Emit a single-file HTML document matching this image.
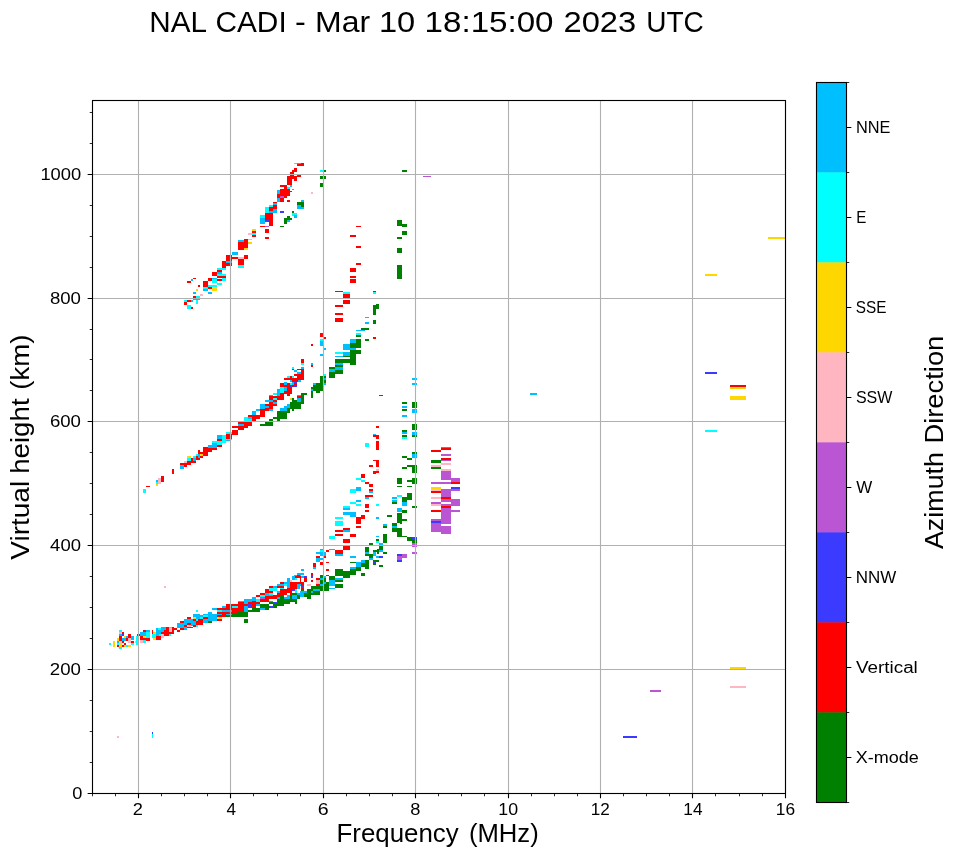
<!DOCTYPE html>
<html><head><meta charset="utf-8"><title>NAL CADI</title>
<style>html,body{margin:0;padding:0;background:#fff}svg{display:block;will-change:transform}text{font-family:"Liberation Sans",sans-serif;fill:#000}</style></head>
<body>
<svg width="958" height="857" viewBox="0 0 958 857">
<rect x="0" y="0" width="958" height="857" fill="#fff"/>
<g id="cells" shape-rendering="crispEdges">
<rect x="108.9" y="643.0" width="2.1" height="2.1" fill="#00ffff"/>
<rect x="113.0" y="640.9" width="2.1" height="6.1" fill="#ffd700"/>
<rect x="119.0" y="630.1" width="3.1" height="1.9" fill="#00ffff"/>
<rect x="119.0" y="631.9" width="3.1" height="1.9" fill="#ffb6c1"/>
<rect x="122.1" y="631.9" width="1.9" height="1.9" fill="#ff0000"/>
<rect x="119.0" y="633.8" width="3.1" height="1.9" fill="#00bfff"/>
<rect x="122.1" y="633.8" width="1.9" height="1.9" fill="#3b3bff"/>
<rect x="119.0" y="635.7" width="3.1" height="5.2" fill="#ff0000"/>
<rect x="117.0" y="637.8" width="2.0" height="3.1" fill="#ffd700"/>
<rect x="117.0" y="640.9" width="2.0" height="2.1" fill="#00bfff"/>
<rect x="119.0" y="640.9" width="3.1" height="2.1" fill="#ffb6c1"/>
<rect x="119.0" y="643.0" width="3.1" height="4.0" fill="#ffd700"/>
<rect x="117.0" y="645.1" width="2.0" height="1.9" fill="#ff0000"/>
<rect x="119.0" y="647.0" width="3.1" height="1.9" fill="#00ffff"/>
<rect x="122.1" y="637.6" width="4.0" height="3.7" fill="#00bfff"/>
<rect x="124.0" y="635.7" width="2.1" height="1.9" fill="#ffd700"/>
<rect x="128.0" y="633.8" width="3.1" height="3.8" fill="#ff0000"/>
<rect x="126.1" y="637.6" width="1.9" height="3.7" fill="#ff0000"/>
<rect x="128.0" y="637.8" width="3.1" height="5.2" fill="#ffb6c1"/>
<rect x="131.1" y="636.0" width="2.8" height="3.7" fill="#00bfff"/>
<rect x="131.1" y="640.9" width="2.8" height="2.1" fill="#ff0000"/>
<rect x="131.1" y="643.0" width="2.8" height="1.9" fill="#00ffff"/>
<rect x="122.1" y="641.2" width="1.9" height="1.8" fill="#ff0000"/>
<rect x="124.0" y="643.0" width="2.1" height="2.1" fill="#ff0000"/>
<rect x="122.1" y="645.1" width="1.9" height="1.9" fill="#ff0000"/>
<rect x="126.1" y="645.1" width="1.9" height="1.9" fill="#00ffff"/>
<rect x="128.0" y="645.1" width="3.1" height="1.9" fill="#ffd700"/>
<rect x="126.1" y="635.7" width="1.9" height="1.9" fill="#00bfff"/>
<rect x="117.0" y="643.0" width="2.0" height="2.1" fill="#00ffff"/>
<rect x="124.0" y="645.1" width="2.1" height="1.9" fill="#ffd700"/>
<rect x="136.0" y="636.0" width="1.6" height="8.9" fill="#00ffff"/>
<rect x="135.0" y="640.9" width="1.0" height="2.1" fill="#ffb6c1"/>
<rect x="137.3" y="633.9" width="2.7" height="2.1" fill="#ff0000"/>
<rect x="140.0" y="636.0" width="3.0" height="3.7" fill="#ff0000"/>
<rect x="140.0" y="631.9" width="5.9" height="4.1" fill="#00bfff"/>
<rect x="143.0" y="630.1" width="2.9" height="1.9" fill="#ff0000"/>
<rect x="145.9" y="630.1" width="4.0" height="1.9" fill="#00bfff"/>
<rect x="145.9" y="631.9" width="4.0" height="5.8" fill="#00ffff"/>
<rect x="143.0" y="636.0" width="2.9" height="1.8" fill="#ffd700"/>
<rect x="143.0" y="637.8" width="6.9" height="3.1" fill="#ff0000"/>
<rect x="140.0" y="640.2" width="3.0" height="2.8" fill="#ffb6c1"/>
<rect x="143.0" y="640.2" width="2.9" height="2.8" fill="#00ffff"/>
<rect x="151.9" y="630.1" width="1.0" height="5.9" fill="#ff0000"/>
<rect x="152.9" y="631.9" width="3.1" height="2.0" fill="#ffd700"/>
<rect x="152.2" y="633.9" width="3.9" height="3.9" fill="#00ffff"/>
<rect x="152.9" y="637.8" width="3.1" height="2.4" fill="#ffd700"/>
<rect x="156.1" y="636.0" width="5.0" height="4.2" fill="#ff0000"/>
<rect x="156.1" y="628.2" width="5.0" height="7.8" fill="#00bfff"/>
<rect x="157.9" y="628.2" width="3.1" height="2.1" fill="#00ffff"/>
<rect x="161.1" y="626.9" width="4.7" height="5.0" fill="#00bfff"/>
<rect x="159.0" y="633.9" width="2.1" height="2.1" fill="#00ffff"/>
<rect x="161.1" y="631.9" width="2.8" height="2.0" fill="#ff0000"/>
<rect x="161.1" y="633.9" width="2.8" height="3.9" fill="#ffb6c1"/>
<rect x="163.9" y="630.1" width="5.0" height="5.9" fill="#ff0000"/>
<rect x="165.8" y="626.9" width="3.1" height="3.1" fill="#ff0000"/>
<rect x="168.9" y="626.9" width="2.9" height="1.3" fill="#00ffff"/>
<rect x="168.9" y="628.2" width="2.9" height="3.8" fill="#ffb6c1"/>
<rect x="171.8" y="626.9" width="2.1" height="7.0" fill="#ff0000"/>
<rect x="168.9" y="631.9" width="2.9" height="2.0" fill="#ff0000"/>
<rect x="168.9" y="633.9" width="2.1" height="2.1" fill="#00ffff"/>
<rect x="173.9" y="628.2" width="3.1" height="1.9" fill="#ff0000"/>
<rect x="177.0" y="623.0" width="10.1" height="5.2" fill="#00bfff"/>
<rect x="179.9" y="620.9" width="4.2" height="2.1" fill="#ff0000"/>
<rect x="184.0" y="619.0" width="8.9" height="7.1" fill="#00bfff"/>
<rect x="187.2" y="617.0" width="3.9" height="2.0" fill="#ff0000"/>
<rect x="184.0" y="625.1" width="3.1" height="1.9" fill="#ff0000"/>
<rect x="187.2" y="625.1" width="3.9" height="1.9" fill="#ffb6c1"/>
<rect x="187.2" y="623.0" width="3.9" height="2.1" fill="#ff0000"/>
<rect x="179.9" y="628.0" width="4.2" height="1.8" fill="#ff0000"/>
<rect x="177.0" y="630.1" width="2.8" height="1.9" fill="#ff0000"/>
<rect x="184.0" y="626.9" width="3.1" height="2.8" fill="#00bfff"/>
<rect x="187.2" y="626.9" width="5.7" height="1.0" fill="#ff0000"/>
<rect x="192.9" y="614.1" width="7.1" height="4.9" fill="#00bfff"/>
<rect x="192.9" y="617.0" width="3.1" height="2.0" fill="#ffd700"/>
<rect x="192.9" y="619.0" width="3.1" height="1.9" fill="#ff0000"/>
<rect x="196.0" y="619.0" width="2.1" height="1.9" fill="#00ffff"/>
<rect x="196.0" y="620.9" width="4.0" height="4.2" fill="#ff0000"/>
<rect x="198.1" y="619.0" width="1.9" height="1.9" fill="#ff0000"/>
<rect x="192.9" y="625.1" width="3.1" height="1.9" fill="#ff0000"/>
<rect x="196.0" y="625.1" width="2.1" height="1.9" fill="#00ffff"/>
<rect x="191.0" y="620.9" width="5.0" height="4.2" fill="#00bfff"/>
<rect x="196.0" y="609.9" width="2.1" height="2.1" fill="#00ffff"/>
<rect x="200.0" y="615.1" width="3.1" height="1.9" fill="#00bfff"/>
<rect x="200.0" y="617.0" width="3.1" height="1.9" fill="#00ffff"/>
<rect x="200.0" y="618.9" width="3.1" height="5.9" fill="#ff0000"/>
<rect x="203.1" y="614.4" width="5.0" height="8.4" fill="#00bfff"/>
<rect x="203.1" y="615.1" width="5.0" height="1.9" fill="#00ffff"/>
<rect x="203.1" y="617.0" width="5.0" height="1.9" fill="#ff0000"/>
<rect x="208.1" y="612.0" width="3.9" height="9.2" fill="#00bfff"/>
<rect x="208.1" y="620.9" width="3.9" height="1.8" fill="#008000"/>
<rect x="212.0" y="608.1" width="4.9" height="1.9" fill="#00bfff"/>
<rect x="212.0" y="613.8" width="4.9" height="6.8" fill="#00bfff"/>
<rect x="216.9" y="608.1" width="9.2" height="8.9" fill="#ff0000"/>
<rect x="216.9" y="610.0" width="5.2" height="1.8" fill="#00ffff"/>
<rect x="222.1" y="606.0" width="4.0" height="2.1" fill="#00bfff"/>
<rect x="216.9" y="613.8" width="5.2" height="1.3" fill="#00bfff"/>
<rect x="216.9" y="617.0" width="5.2" height="2.1" fill="#ffd700"/>
<rect x="216.9" y="619.1" width="5.2" height="1.9" fill="#ff0000"/>
<rect x="226.1" y="603.9" width="4.2" height="9.9" fill="#ff0000"/>
<rect x="226.1" y="613.8" width="4.2" height="1.3" fill="#00bfff"/>
<rect x="226.1" y="614.9" width="4.2" height="1.9" fill="#008000"/>
<rect x="230.3" y="603.9" width="7.8" height="9.9" fill="#ff0000"/>
<rect x="232.2" y="606.0" width="5.9" height="2.1" fill="#00ffff"/>
<rect x="238.1" y="601.8" width="5.7" height="9.9" fill="#ff0000"/>
<rect x="238.1" y="601.1" width="5.7" height="1.0" fill="#00bfff"/>
<rect x="231.3" y="613.8" width="16.7" height="2.9" fill="#008000"/>
<rect x="238.1" y="612.0" width="9.9" height="1.9" fill="#008000"/>
<rect x="244.1" y="619.1" width="4.0" height="3.7" fill="#008000"/>
<rect x="243.8" y="599.0" width="8.4" height="4.9" fill="#00bfff"/>
<rect x="243.8" y="606.0" width="4.2" height="5.7" fill="#00bfff"/>
<rect x="243.8" y="603.9" width="4.2" height="2.1" fill="#ff0000"/>
<rect x="248.0" y="603.9" width="4.2" height="3.9" fill="#3b3bff"/>
<rect x="248.0" y="601.8" width="4.2" height="2.1" fill="#ff0000"/>
<rect x="248.0" y="610.0" width="12.0" height="2.0" fill="#008000"/>
<rect x="252.2" y="607.8" width="7.8" height="2.2" fill="#008000"/>
<rect x="252.2" y="601.1" width="3.9" height="6.7" fill="#ff0000"/>
<rect x="252.2" y="596.9" width="3.9" height="4.2" fill="#00bfff"/>
<rect x="256.1" y="594.8" width="4.0" height="2.1" fill="#ff0000"/>
<rect x="256.1" y="599.0" width="4.0" height="2.8" fill="#00ffff"/>
<rect x="256.1" y="601.8" width="4.0" height="2.1" fill="#ff0000"/>
<rect x="256.1" y="603.9" width="4.0" height="2.1" fill="#00bfff"/>
<rect x="260.0" y="603.9" width="8.9" height="3.9" fill="#008000"/>
<rect x="260.0" y="607.8" width="4.9" height="2.2" fill="#00bfff"/>
<rect x="264.9" y="607.8" width="4.0" height="2.2" fill="#008000"/>
<rect x="260.0" y="593.0" width="4.9" height="2.1" fill="#ff0000"/>
<rect x="260.0" y="595.1" width="4.9" height="1.9" fill="#00ffff"/>
<rect x="260.0" y="596.9" width="4.9" height="2.1" fill="#ba55d3"/>
<rect x="260.0" y="599.0" width="8.9" height="2.8" fill="#ff0000"/>
<rect x="264.9" y="589.0" width="4.0" height="4.0" fill="#ff0000"/>
<rect x="264.9" y="593.0" width="8.1" height="3.1" fill="#00bfff"/>
<rect x="264.9" y="596.1" width="8.1" height="3.1" fill="#ff0000"/>
<rect x="268.9" y="593.0" width="4.2" height="2.1" fill="#00ffff"/>
<rect x="268.9" y="585.7" width="4.2" height="2.1" fill="#ff0000"/>
<rect x="268.9" y="588.3" width="8.4" height="2.6" fill="#00ffff"/>
<rect x="268.9" y="590.9" width="4.2" height="2.1" fill="#ff0000"/>
<rect x="268.9" y="601.8" width="4.2" height="2.1" fill="#008000"/>
<rect x="268.9" y="600.9" width="4.2" height="1.0" fill="#ba55d3"/>
<rect x="268.9" y="605.8" width="4.2" height="2.0" fill="#3b3bff"/>
<rect x="273.1" y="603.9" width="4.2" height="3.9" fill="#008000"/>
<rect x="273.1" y="601.8" width="4.2" height="2.1" fill="#3b3bff"/>
<rect x="273.1" y="595.1" width="4.2" height="4.0" fill="#ff0000"/>
<rect x="273.1" y="585.7" width="4.2" height="2.6" fill="#00bfff"/>
<rect x="277.2" y="590.9" width="2.6" height="2.1" fill="#00bfff"/>
<rect x="277.2" y="593.0" width="2.6" height="4.0" fill="#ff0000"/>
<rect x="277.2" y="599.0" width="6.8" height="7.0" fill="#008000"/>
<rect x="277.2" y="596.9" width="2.6" height="2.1" fill="#00bfff"/>
<rect x="277.2" y="585.7" width="6.8" height="2.1" fill="#ff0000"/>
<rect x="277.2" y="584.1" width="6.8" height="1.6" fill="#00bfff"/>
<rect x="279.9" y="582.0" width="4.2" height="2.1" fill="#ff0000"/>
<rect x="279.9" y="587.7" width="4.2" height="1.3" fill="#00ffff"/>
<rect x="279.9" y="589.0" width="7.3" height="6.1" fill="#ff0000"/>
<rect x="279.9" y="595.1" width="4.2" height="4.0" fill="#008000"/>
<rect x="284.0" y="582.0" width="3.1" height="3.7" fill="#00bfff"/>
<rect x="287.2" y="578.1" width="2.6" height="9.6" fill="#00bfff"/>
<rect x="284.0" y="584.1" width="3.1" height="1.6" fill="#00ffff"/>
<rect x="287.2" y="587.7" width="4.7" height="5.2" fill="#ff0000"/>
<rect x="284.0" y="596.9" width="3.1" height="2.1" fill="#00bfff"/>
<rect x="287.2" y="595.1" width="2.6" height="6.8" fill="#00bfff"/>
<rect x="284.0" y="599.0" width="5.7" height="4.9" fill="#008000"/>
<rect x="289.8" y="582.0" width="10.2" height="7.0" fill="#ff0000"/>
<rect x="289.8" y="580.1" width="2.1" height="1.9" fill="#ffb6c1"/>
<rect x="291.9" y="576.1" width="2.6" height="4.1" fill="#00bfff"/>
<rect x="294.5" y="576.1" width="5.5" height="2.1" fill="#ff0000"/>
<rect x="297.1" y="573.1" width="2.9" height="2.1" fill="#00bfff"/>
<rect x="297.1" y="575.0" width="2.9" height="1.0" fill="#3b3bff"/>
<rect x="294.5" y="578.1" width="2.6" height="2.0" fill="#00ffff"/>
<rect x="291.9" y="588.8" width="2.6" height="2.1" fill="#3b3bff"/>
<rect x="294.5" y="589.0" width="2.6" height="4.0" fill="#00ffff"/>
<rect x="297.1" y="584.1" width="2.9" height="4.9" fill="#00bfff"/>
<rect x="291.9" y="593.0" width="5.2" height="2.1" fill="#008000"/>
<rect x="289.8" y="595.1" width="2.1" height="6.8" fill="#008000"/>
<rect x="291.9" y="595.1" width="5.2" height="4.0" fill="#00bfff"/>
<rect x="291.9" y="599.0" width="2.6" height="2.8" fill="#008000"/>
<rect x="294.5" y="599.0" width="2.6" height="4.9" fill="#008000"/>
<rect x="297.1" y="595.1" width="2.9" height="4.0" fill="#008000"/>
<rect x="297.1" y="593.0" width="2.9" height="2.1" fill="#00bfff"/>
<rect x="289.8" y="589.0" width="2.1" height="6.1" fill="#ff0000"/>
<rect x="222.1" y="610.2" width="9.7" height="1.6" fill="#00bfff"/>
<rect x="226.1" y="613.8" width="5.7" height="1.3" fill="#00bfff"/>
<rect x="300.8" y="569.0" width="3.3" height="2.1" fill="#00bfff"/>
<rect x="300.0" y="573.2" width="4.2" height="1.8" fill="#00bfff"/>
<rect x="300.0" y="575.0" width="1.0" height="3.1" fill="#00bfff"/>
<rect x="300.0" y="576.0" width="1.3" height="5.7" fill="#ff0000"/>
<rect x="304.2" y="576.0" width="2.9" height="2.1" fill="#3b3bff"/>
<rect x="304.2" y="578.1" width="2.9" height="3.7" fill="#ff0000"/>
<rect x="300.0" y="581.8" width="4.2" height="4.2" fill="#ff0000"/>
<rect x="301.0" y="585.9" width="3.1" height="2.1" fill="#3b3bff"/>
<rect x="301.0" y="588.0" width="3.1" height="1.0" fill="#ff0000"/>
<rect x="301.0" y="589.1" width="3.1" height="1.9" fill="#008000"/>
<rect x="300.0" y="583.8" width="1.0" height="2.1" fill="#00bfff"/>
<rect x="300.0" y="590.9" width="7.1" height="2.3" fill="#00bfff"/>
<rect x="300.0" y="593.2" width="4.2" height="3.7" fill="#00bfff"/>
<rect x="304.2" y="593.2" width="6.8" height="3.7" fill="#008000"/>
<rect x="307.1" y="596.9" width="3.9" height="1.6" fill="#008000"/>
<rect x="307.1" y="589.1" width="3.9" height="4.2" fill="#008000"/>
<rect x="311.0" y="585.9" width="12.5" height="5.2" fill="#008000"/>
<rect x="313.0" y="589.1" width="6.8" height="1.9" fill="#00bfff"/>
<rect x="311.0" y="591.1" width="8.9" height="3.7" fill="#008000"/>
<rect x="311.0" y="591.1" width="2.1" height="1.9" fill="#00bfff"/>
<rect x="307.1" y="583.8" width="3.9" height="2.1" fill="#ffb6c1"/>
<rect x="311.0" y="573.2" width="2.1" height="1.8" fill="#ff0000"/>
<rect x="311.0" y="575.0" width="2.1" height="3.1" fill="#3b3bff"/>
<rect x="311.0" y="580.0" width="2.1" height="1.8" fill="#ff0000"/>
<rect x="313.0" y="563.0" width="2.8" height="4.0" fill="#ff0000"/>
<rect x="313.0" y="566.9" width="2.8" height="2.1" fill="#00bfff"/>
<rect x="315.9" y="578.1" width="4.0" height="1.9" fill="#ff0000"/>
<rect x="315.9" y="580.0" width="4.0" height="3.9" fill="#ffb6c1"/>
<rect x="315.9" y="583.8" width="4.0" height="2.1" fill="#ff0000"/>
<rect x="319.8" y="576.0" width="3.1" height="7.8" fill="#008000"/>
<rect x="319.8" y="578.1" width="3.1" height="1.9" fill="#00bfff"/>
<rect x="319.8" y="583.8" width="3.1" height="2.1" fill="#00bfff"/>
<rect x="319.8" y="575.0" width="3.1" height="1.0" fill="#ff0000"/>
<rect x="319.8" y="561.9" width="3.1" height="3.1" fill="#ff0000"/>
<rect x="315.9" y="552.0" width="4.0" height="2.1" fill="#00bfff"/>
<rect x="319.8" y="549.4" width="3.1" height="2.6" fill="#00ffff"/>
<rect x="319.8" y="548.9" width="3.1" height="1.0" fill="#00bfff"/>
<rect x="319.8" y="552.0" width="3.1" height="3.7" fill="#00bfff"/>
<rect x="315.9" y="555.9" width="4.0" height="2.1" fill="#ff0000"/>
<rect x="315.9" y="558.0" width="4.0" height="4.0" fill="#00bfff"/>
<rect x="319.8" y="558.0" width="3.1" height="1.9" fill="#00bfff"/>
<rect x="324.0" y="552.0" width="1.9" height="3.7" fill="#00bfff"/>
<rect x="324.0" y="555.9" width="1.9" height="2.1" fill="#ff0000"/>
<rect x="325.9" y="549.9" width="3.1" height="1.9" fill="#ff0000"/>
<rect x="329.0" y="548.9" width="5.9" height="1.3" fill="#00bfff"/>
<rect x="325.9" y="561.7" width="3.1" height="1.3" fill="#ff0000"/>
<rect x="325.9" y="569.0" width="3.1" height="2.1" fill="#ff0000"/>
<rect x="325.9" y="575.0" width="3.1" height="1.0" fill="#ff0000"/>
<rect x="324.0" y="576.0" width="1.9" height="2.1" fill="#00bfff"/>
<rect x="324.0" y="578.1" width="1.9" height="3.7" fill="#008000"/>
<rect x="323.0" y="581.8" width="6.1" height="9.4" fill="#008000"/>
<rect x="324.0" y="581.8" width="1.9" height="2.1" fill="#00bfff"/>
<rect x="329.0" y="576.0" width="5.9" height="4.0" fill="#008000"/>
<rect x="329.0" y="580.0" width="5.9" height="5.9" fill="#00bfff"/>
<rect x="329.0" y="587.8" width="5.9" height="1.3" fill="#00bfff"/>
<rect x="335.0" y="578.1" width="7.8" height="1.9" fill="#00bfff"/>
<rect x="335.0" y="580.0" width="7.8" height="1.8" fill="#008000"/>
<rect x="335.0" y="583.8" width="7.8" height="4.0" fill="#008000"/>
<rect x="335.0" y="569.0" width="7.8" height="5.9" fill="#008000"/>
<rect x="342.8" y="571.1" width="7.1" height="7.0" fill="#008000"/>
<rect x="335.0" y="575.0" width="7.8" height="1.3" fill="#008000"/>
<rect x="349.9" y="569.0" width="6.2" height="5.9" fill="#008000"/>
<rect x="356.1" y="566.9" width="5.0" height="4.2" fill="#008000"/>
<rect x="361.1" y="563.0" width="7.8" height="4.0" fill="#008000"/>
<rect x="364.9" y="559.8" width="4.0" height="3.1" fill="#008000"/>
<rect x="364.9" y="566.9" width="4.0" height="2.1" fill="#008000"/>
<rect x="349.9" y="566.9" width="6.2" height="2.1" fill="#00bfff"/>
<rect x="356.1" y="561.9" width="5.0" height="5.0" fill="#00bfff"/>
<rect x="361.1" y="559.8" width="3.9" height="3.1" fill="#00bfff"/>
<rect x="349.9" y="561.7" width="6.2" height="1.3" fill="#008000"/>
<rect x="361.1" y="573.2" width="3.9" height="2.8" fill="#008000"/>
<rect x="335.0" y="549.9" width="7.8" height="4.2" fill="#ff0000"/>
<rect x="335.0" y="554.1" width="7.8" height="1.8" fill="#00bfff"/>
<rect x="343.0" y="546.1" width="6.9" height="4.1" fill="#ff0000"/>
<rect x="343.0" y="540.0" width="6.9" height="2.9" fill="#ff0000"/>
<rect x="349.9" y="555.9" width="6.2" height="2.1" fill="#00bfff"/>
<rect x="364.9" y="546.8" width="4.0" height="5.2" fill="#008000"/>
<rect x="364.9" y="552.0" width="4.0" height="2.1" fill="#00bfff"/>
<rect x="364.9" y="554.1" width="8.1" height="1.8" fill="#008000"/>
<rect x="368.9" y="555.9" width="4.2" height="2.1" fill="#008000"/>
<rect x="368.9" y="558.0" width="4.2" height="1.9" fill="#00bfff"/>
<rect x="368.9" y="542.9" width="4.2" height="2.1" fill="#008000"/>
<rect x="373.1" y="550.1" width="4.2" height="1.9" fill="#008000"/>
<rect x="377.2" y="548.9" width="1.6" height="5.2" fill="#008000"/>
<rect x="373.1" y="552.0" width="3.1" height="3.7" fill="#00bfff"/>
<rect x="373.1" y="559.8" width="5.7" height="1.9" fill="#008000"/>
<rect x="373.1" y="561.7" width="3.1" height="1.3" fill="#3b3bff"/>
<rect x="373.1" y="563.0" width="3.1" height="2.1" fill="#008000"/>
<rect x="376.2" y="555.9" width="2.6" height="2.1" fill="#00bfff"/>
<rect x="378.8" y="555.9" width="4.2" height="2.1" fill="#3b3bff"/>
<rect x="378.8" y="546.1" width="4.2" height="4.1" fill="#008000"/>
<rect x="378.8" y="550.1" width="4.2" height="1.9" fill="#00bfff"/>
<rect x="378.8" y="542.9" width="4.2" height="2.1" fill="#00bfff"/>
<rect x="376.2" y="540.8" width="2.6" height="2.1" fill="#00ffff"/>
<rect x="376.2" y="540.0" width="2.6" height="0.8" fill="#008000"/>
<rect x="383.0" y="540.0" width="4.2" height="2.9" fill="#008000"/>
<rect x="383.0" y="552.0" width="4.2" height="2.1" fill="#008000"/>
<rect x="378.8" y="565.1" width="4.2" height="1.9" fill="#008000"/>
<rect x="397.1" y="554.1" width="2.9" height="1.8" fill="#3b3bff"/>
<rect x="397.1" y="555.9" width="2.9" height="4.0" fill="#ba55d3"/>
<rect x="397.1" y="559.8" width="2.9" height="2.1" fill="#3b3bff"/>
<rect x="301.3" y="576.0" width="2.9" height="2.1" fill="#00bfff"/>
<rect x="361.1" y="480.0" width="3.9" height="1.9" fill="#00ffff"/>
<rect x="364.9" y="481.9" width="4.0" height="2.1" fill="#ff0000"/>
<rect x="368.9" y="484.0" width="4.2" height="3.1" fill="#ff0000"/>
<rect x="356.1" y="487.1" width="5.0" height="3.9" fill="#00bfff"/>
<rect x="349.9" y="489.2" width="6.2" height="3.9" fill="#00ffff"/>
<rect x="368.9" y="489.2" width="4.2" height="1.8" fill="#ff0000"/>
<rect x="368.9" y="491.0" width="4.2" height="2.1" fill="#00bfff"/>
<rect x="364.9" y="494.9" width="8.1" height="2.1" fill="#ff0000"/>
<rect x="364.9" y="497.0" width="4.0" height="2.0" fill="#00bfff"/>
<rect x="356.1" y="500.0" width="5.0" height="1.9" fill="#00bfff"/>
<rect x="349.9" y="501.9" width="6.2" height="2.1" fill="#00ffff"/>
<rect x="356.1" y="504.0" width="5.0" height="2.1" fill="#00ffff"/>
<rect x="364.9" y="504.0" width="4.0" height="4.0" fill="#ff0000"/>
<rect x="376.0" y="504.0" width="3.1" height="2.1" fill="#00ffff"/>
<rect x="343.0" y="506.1" width="6.9" height="2.1" fill="#00ffff"/>
<rect x="343.0" y="508.2" width="6.9" height="1.9" fill="#00bfff"/>
<rect x="364.9" y="510.1" width="4.0" height="1.9" fill="#ff0000"/>
<rect x="343.0" y="511.9" width="13.0" height="3.0" fill="#00bfff"/>
<rect x="349.9" y="515.0" width="6.2" height="2.1" fill="#00bfff"/>
<rect x="361.1" y="515.0" width="3.9" height="4.0" fill="#ff0000"/>
<rect x="356.1" y="517.1" width="5.0" height="6.8" fill="#ff0000"/>
<rect x="335.0" y="517.1" width="8.0" height="1.9" fill="#00ffff"/>
<rect x="335.0" y="520.9" width="8.0" height="5.0" fill="#00ffff"/>
<rect x="356.1" y="525.9" width="5.0" height="2.1" fill="#ff0000"/>
<rect x="343.0" y="528.0" width="6.9" height="2.1" fill="#ff0000"/>
<rect x="343.0" y="530.1" width="6.9" height="1.9" fill="#00bfff"/>
<rect x="335.0" y="530.1" width="8.0" height="1.9" fill="#ff0000"/>
<rect x="335.0" y="534.0" width="8.0" height="2.1" fill="#ff0000"/>
<rect x="349.9" y="534.0" width="6.2" height="2.9" fill="#ff0000"/>
<rect x="329.0" y="536.1" width="5.9" height="2.9" fill="#00ffff"/>
<rect x="343.0" y="539.0" width="6.9" height="1.0" fill="#ff0000"/>
<rect x="376.2" y="517.1" width="2.9" height="1.9" fill="#00bfff"/>
<rect x="376.2" y="536.1" width="2.9" height="1.0" fill="#00bfff"/>
<rect x="387.2" y="515.0" width="4.7" height="2.1" fill="#008000"/>
<rect x="383.0" y="525.9" width="4.2" height="1.9" fill="#008000"/>
<rect x="383.0" y="524.1" width="4.2" height="1.9" fill="#00bfff"/>
<rect x="383.0" y="534.0" width="4.2" height="6.1" fill="#008000"/>
<rect x="376.2" y="539.0" width="2.9" height="1.0" fill="#008000"/>
<rect x="397.1" y="480.0" width="2.9" height="4.0" fill="#008000"/>
<rect x="397.1" y="486.1" width="2.9" height="1.0" fill="#008000"/>
<rect x="397.1" y="494.9" width="2.9" height="2.1" fill="#00ffff"/>
<rect x="391.9" y="497.0" width="5.2" height="2.0" fill="#00bfff"/>
<rect x="391.9" y="500.0" width="5.2" height="1.9" fill="#00bfff"/>
<rect x="391.9" y="501.9" width="5.2" height="2.1" fill="#008000"/>
<rect x="397.1" y="508.0" width="2.9" height="4.0" fill="#00bfff"/>
<rect x="397.1" y="513.0" width="2.9" height="10.0" fill="#008000"/>
<rect x="391.9" y="523.0" width="5.2" height="2.9" fill="#008000"/>
<rect x="391.9" y="525.9" width="5.2" height="2.1" fill="#00bfff"/>
<rect x="391.9" y="528.0" width="8.1" height="4.0" fill="#008000"/>
<rect x="397.1" y="532.0" width="2.9" height="4.9" fill="#008000"/>
<rect x="376.0" y="426.1" width="3.1" height="1.9" fill="#ff0000"/>
<rect x="373.1" y="434.1" width="2.9" height="1.0" fill="#00bfff"/>
<rect x="373.1" y="435.1" width="6.1" height="1.9" fill="#ff0000"/>
<rect x="376.0" y="437.0" width="3.1" height="2.0" fill="#ff0000"/>
<rect x="364.9" y="443.2" width="4.0" height="3.8" fill="#00ffff"/>
<rect x="376.0" y="440.9" width="3.1" height="9.2" fill="#ff0000"/>
<rect x="373.1" y="460.0" width="6.1" height="1.0" fill="#ff0000"/>
<rect x="376.0" y="461.0" width="3.1" height="5.9" fill="#ff0000"/>
<rect x="368.9" y="464.9" width="4.2" height="2.1" fill="#ff0000"/>
<rect x="376.0" y="469.1" width="3.1" height="1.9" fill="#ffb6c1"/>
<rect x="373.1" y="470.9" width="6.1" height="1.8" fill="#ff0000"/>
<rect x="373.1" y="472.7" width="2.9" height="1.3" fill="#ff0000"/>
<rect x="361.1" y="474.0" width="3.9" height="4.0" fill="#ff0000"/>
<rect x="356.1" y="477.9" width="5.0" height="2.1" fill="#00ffff"/>
<rect x="397.1" y="477.9" width="2.9" height="2.1" fill="#008000"/>
<rect x="402.1" y="500.0" width="5.0" height="2.1" fill="#008000"/>
<rect x="402.1" y="502.1" width="5.0" height="4.0" fill="#00bfff"/>
<rect x="412.0" y="506.1" width="4.9" height="1.9" fill="#008000"/>
<rect x="400.0" y="508.1" width="2.1" height="3.9" fill="#00bfff"/>
<rect x="402.1" y="510.1" width="5.0" height="2.9" fill="#008000"/>
<rect x="400.0" y="513.0" width="2.1" height="11.0" fill="#008000"/>
<rect x="402.1" y="519.0" width="5.0" height="1.9" fill="#008000"/>
<rect x="400.0" y="528.0" width="2.1" height="8.0" fill="#008000"/>
<rect x="400.0" y="536.0" width="7.1" height="1.0" fill="#008000"/>
<rect x="407.1" y="537.1" width="9.8" height="3.7" fill="#008000"/>
<rect x="412.0" y="537.1" width="4.9" height="1.9" fill="#3b3bff"/>
<rect x="412.0" y="540.7" width="4.9" height="2.3" fill="#008000"/>
<rect x="412.0" y="543.0" width="4.9" height="4.0" fill="#ba55d3"/>
<rect x="412.0" y="552.0" width="4.9" height="2.0" fill="#ba55d3"/>
<rect x="400.0" y="554.0" width="2.1" height="2.1" fill="#3b3bff"/>
<rect x="402.1" y="554.0" width="5.0" height="4.0" fill="#ba55d3"/>
<rect x="400.0" y="556.1" width="2.1" height="4.0" fill="#ba55d3"/>
<rect x="431.1" y="502.1" width="9.8" height="2.1" fill="#ba55d3"/>
<rect x="431.1" y="504.2" width="9.8" height="1.9" fill="#ffb6c1"/>
<rect x="440.9" y="500.0" width="19.1" height="2.1" fill="#ba55d3"/>
<rect x="450.8" y="502.1" width="9.2" height="4.0" fill="#ba55d3"/>
<rect x="440.9" y="504.2" width="9.9" height="1.9" fill="#ba55d3"/>
<rect x="440.9" y="506.1" width="9.9" height="2.1" fill="#ff0000"/>
<rect x="431.1" y="510.1" width="9.8" height="1.9" fill="#ff0000"/>
<rect x="440.9" y="508.1" width="9.9" height="15.9" fill="#ba55d3"/>
<rect x="450.8" y="510.1" width="9.2" height="1.9" fill="#ba55d3"/>
<rect x="431.1" y="519.0" width="9.8" height="1.9" fill="#ba55d3"/>
<rect x="431.1" y="520.9" width="9.8" height="2.1" fill="#3b3bff"/>
<rect x="431.1" y="523.0" width="9.8" height="9.0" fill="#ba55d3"/>
<rect x="440.9" y="526.1" width="9.9" height="7.8" fill="#ba55d3"/>
<rect x="412.0" y="452.0" width="4.9" height="2.1" fill="#008000"/>
<rect x="412.0" y="454.1" width="4.9" height="3.9" fill="#00bfff"/>
<rect x="402.1" y="455.9" width="5.0" height="1.9" fill="#008000"/>
<rect x="407.1" y="458.0" width="4.9" height="1.9" fill="#008000"/>
<rect x="407.1" y="465.1" width="9.8" height="1.9" fill="#008000"/>
<rect x="412.0" y="466.9" width="4.9" height="6.1" fill="#008000"/>
<rect x="402.1" y="466.9" width="5.0" height="1.9" fill="#008000"/>
<rect x="400.0" y="478.1" width="2.1" height="5.7" fill="#008000"/>
<rect x="407.1" y="480.0" width="4.9" height="1.8" fill="#008000"/>
<rect x="412.0" y="478.1" width="4.9" height="5.7" fill="#008000"/>
<rect x="400.0" y="485.9" width="2.1" height="1.0" fill="#008000"/>
<rect x="407.1" y="485.9" width="4.9" height="1.0" fill="#008000"/>
<rect x="400.0" y="495.0" width="2.1" height="1.9" fill="#00ffff"/>
<rect x="407.1" y="493.0" width="4.9" height="7.0" fill="#008000"/>
<rect x="402.1" y="496.9" width="5.0" height="3.1" fill="#008000"/>
<rect x="440.9" y="447.1" width="9.9" height="1.0" fill="#ba55d3"/>
<rect x="440.9" y="448.1" width="9.9" height="2.0" fill="#ff0000"/>
<rect x="431.1" y="450.1" width="9.8" height="1.9" fill="#ff0000"/>
<rect x="440.9" y="454.1" width="9.9" height="1.8" fill="#ba55d3"/>
<rect x="440.9" y="458.0" width="9.9" height="2.1" fill="#ff0000"/>
<rect x="440.9" y="460.0" width="9.9" height="0.8" fill="#ba55d3"/>
<rect x="431.1" y="460.0" width="9.8" height="2.9" fill="#008000"/>
<rect x="440.9" y="463.2" width="9.9" height="1.9" fill="#ffb6c1"/>
<rect x="431.1" y="465.1" width="9.8" height="1.9" fill="#ffb6c1"/>
<rect x="431.1" y="466.9" width="9.8" height="2.1" fill="#008000"/>
<rect x="440.9" y="469.0" width="9.9" height="2.1" fill="#ffb6c1"/>
<rect x="440.9" y="471.1" width="9.9" height="8.9" fill="#ba55d3"/>
<rect x="450.8" y="478.1" width="9.2" height="3.9" fill="#ba55d3"/>
<rect x="450.8" y="482.0" width="9.2" height="1.9" fill="#ff0000"/>
<rect x="431.1" y="482.0" width="19.7" height="1.9" fill="#ba55d3"/>
<rect x="431.1" y="487.0" width="9.8" height="2.1" fill="#ffd700"/>
<rect x="450.8" y="487.0" width="9.2" height="2.1" fill="#3b3bff"/>
<rect x="431.1" y="489.1" width="9.8" height="1.9" fill="#ffb6c1"/>
<rect x="440.9" y="489.1" width="19.1" height="1.9" fill="#ba55d3"/>
<rect x="431.1" y="490.9" width="9.8" height="2.1" fill="#ff0000"/>
<rect x="440.9" y="490.9" width="9.9" height="5.9" fill="#ba55d3"/>
<rect x="431.1" y="496.9" width="9.8" height="2.1" fill="#ffb6c1"/>
<rect x="440.9" y="496.9" width="9.9" height="2.1" fill="#ff0000"/>
<rect x="440.9" y="499.0" width="19.1" height="1.0" fill="#ba55d3"/>
<rect x="412.0" y="378.1" width="5.0" height="1.8" fill="#00bfff"/>
<rect x="412.0" y="383.0" width="5.0" height="1.9" fill="#00bfff"/>
<rect x="378.9" y="394.8" width="4.2" height="1.0" fill="#ff0000"/>
<rect x="402.2" y="402.2" width="4.9" height="1.8" fill="#008000"/>
<rect x="402.2" y="406.0" width="4.9" height="1.9" fill="#00bfff"/>
<rect x="402.2" y="408.9" width="4.9" height="2.0" fill="#008000"/>
<rect x="402.2" y="414.9" width="4.9" height="2.1" fill="#00bfff"/>
<rect x="412.0" y="402.2" width="5.0" height="5.7" fill="#008000"/>
<rect x="412.0" y="408.9" width="5.0" height="4.1" fill="#00bfff"/>
<rect x="412.0" y="424.0" width="5.0" height="6.1" fill="#008000"/>
<rect x="402.2" y="430.0" width="4.9" height="2.1" fill="#008000"/>
<rect x="402.2" y="432.1" width="4.9" height="1.8" fill="#00bfff"/>
<rect x="402.2" y="434.9" width="4.9" height="2.1" fill="#008000"/>
<rect x="402.2" y="437.0" width="4.9" height="1.9" fill="#00ffff"/>
<rect x="412.0" y="432.1" width="5.0" height="2.8" fill="#00bfff"/>
<rect x="412.0" y="434.9" width="5.0" height="2.1" fill="#008000"/>
<rect x="143.0" y="489.0" width="2.8" height="3.9" fill="#00ffff"/>
<rect x="145.9" y="486.1" width="4.0" height="1.0" fill="#ff0000"/>
<rect x="156.1" y="480.1" width="1.9" height="1.9" fill="#00bfff"/>
<rect x="156.1" y="482.0" width="1.9" height="2.0" fill="#00ffff"/>
<rect x="156.1" y="484.0" width="1.9" height="2.1" fill="#ffd700"/>
<rect x="158.0" y="478.0" width="3.1" height="5.9" fill="#ffb6c1"/>
<rect x="161.1" y="475.9" width="2.8" height="6.1" fill="#ff0000"/>
<rect x="172.0" y="468.9" width="2.1" height="4.9" fill="#ff0000"/>
<rect x="180.1" y="465.0" width="3.9" height="4.0" fill="#00bfff"/>
<rect x="180.1" y="463.0" width="6.8" height="2.0" fill="#ff0000"/>
<rect x="184.0" y="465.0" width="2.9" height="2.1" fill="#ff0000"/>
<rect x="184.0" y="461.1" width="2.9" height="1.9" fill="#ffb6c1"/>
<rect x="186.9" y="461.1" width="4.2" height="3.9" fill="#ff0000"/>
<rect x="186.9" y="456.1" width="4.2" height="2.1" fill="#ffd700"/>
<rect x="186.9" y="458.2" width="4.2" height="2.9" fill="#00ffff"/>
<rect x="191.1" y="458.2" width="4.9" height="4.8" fill="#ff0000"/>
<rect x="192.9" y="456.1" width="3.0" height="2.1" fill="#00ffff"/>
<rect x="192.9" y="458.2" width="3.0" height="2.9" fill="#00bfff"/>
<rect x="196.0" y="456.1" width="4.0" height="4.0" fill="#ff0000"/>
<rect x="196.0" y="454.0" width="1.9" height="2.1" fill="#00ffff"/>
<rect x="197.8" y="454.0" width="2.1" height="4.0" fill="#00bfff"/>
<rect x="197.8" y="450.0" width="2.1" height="4.0" fill="#ff0000"/>
<rect x="199.9" y="451.9" width="3.1" height="6.1" fill="#ff0000"/>
<rect x="199.9" y="454.0" width="3.1" height="2.1" fill="#ffd700"/>
<rect x="203.1" y="447.0" width="5.0" height="8.9" fill="#ff0000"/>
<rect x="208.1" y="448.0" width="3.9" height="4.0" fill="#ff0000"/>
<rect x="211.9" y="448.0" width="4.9" height="1.9" fill="#ff0000"/>
<rect x="208.1" y="444.9" width="8.8" height="3.0" fill="#00bfff"/>
<rect x="211.9" y="441.0" width="9.9" height="4.0" fill="#00ffff"/>
<rect x="211.9" y="443.0" width="4.9" height="1.9" fill="#00bfff"/>
<rect x="216.8" y="444.9" width="5.0" height="2.1" fill="#ff0000"/>
<rect x="216.8" y="439.1" width="5.0" height="1.9" fill="#ff0000"/>
<rect x="216.8" y="435.0" width="5.0" height="4.1" fill="#00bfff"/>
<rect x="221.9" y="435.0" width="4.2" height="8.0" fill="#00ffff"/>
<rect x="226.0" y="434.0" width="4.0" height="5.1" fill="#ff0000"/>
<rect x="226.0" y="431.9" width="4.0" height="2.1" fill="#00ffff"/>
<rect x="226.0" y="439.1" width="4.0" height="1.9" fill="#00bfff"/>
<rect x="226.0" y="432.1" width="6.1" height="1.8" fill="#00ffff"/>
<rect x="226.0" y="433.9" width="6.1" height="5.0" fill="#ff0000"/>
<rect x="226.0" y="438.9" width="6.1" height="1.1" fill="#00ffff"/>
<rect x="232.1" y="430.0" width="5.9" height="4.9" fill="#ff0000"/>
<rect x="232.1" y="426.1" width="15.9" height="1.9" fill="#ff0000"/>
<rect x="238.0" y="427.9" width="6.1" height="2.1" fill="#ff0000"/>
<rect x="238.0" y="422.2" width="13.9" height="3.9" fill="#ff0000"/>
<rect x="238.0" y="424.0" width="6.1" height="2.1" fill="#00bfff"/>
<rect x="244.1" y="417.0" width="7.8" height="4.0" fill="#00ffff"/>
<rect x="248.0" y="417.0" width="4.0" height="2.1" fill="#00bfff"/>
<rect x="248.0" y="414.9" width="12.0" height="2.1" fill="#ff0000"/>
<rect x="251.9" y="417.0" width="8.0" height="2.1" fill="#ff0000"/>
<rect x="251.9" y="419.1" width="4.2" height="1.9" fill="#ff0000"/>
<rect x="251.9" y="410.9" width="4.2" height="4.0" fill="#00bfff"/>
<rect x="256.1" y="408.9" width="3.9" height="2.0" fill="#00bfff"/>
<rect x="260.0" y="408.9" width="5.0" height="8.0" fill="#ff0000"/>
<rect x="265.0" y="407.9" width="4.1" height="3.0" fill="#ff0000"/>
<rect x="269.1" y="408.9" width="4.0" height="2.0" fill="#00bfff"/>
<rect x="260.0" y="403.9" width="5.0" height="5.0" fill="#00bfff"/>
<rect x="265.0" y="406.0" width="4.1" height="1.9" fill="#00bfff"/>
<rect x="265.0" y="403.9" width="4.1" height="2.1" fill="#ff0000"/>
<rect x="269.1" y="401.9" width="4.0" height="7.0" fill="#ff0000"/>
<rect x="273.0" y="403.9" width="4.0" height="2.1" fill="#ff0000"/>
<rect x="273.0" y="401.9" width="4.0" height="2.0" fill="#00bfff"/>
<rect x="265.0" y="400.1" width="8.0" height="1.9" fill="#00bfff"/>
<rect x="273.0" y="400.1" width="4.0" height="1.9" fill="#ff0000"/>
<rect x="273.0" y="398.0" width="4.0" height="2.1" fill="#00ffff"/>
<rect x="269.1" y="396.1" width="14.9" height="4.0" fill="#ff0000"/>
<rect x="273.0" y="398.0" width="4.0" height="1.9" fill="#00ffff"/>
<rect x="269.1" y="395.1" width="4.0" height="1.0" fill="#00bfff"/>
<rect x="273.0" y="393.0" width="4.0" height="2.1" fill="#00ffff"/>
<rect x="277.0" y="389.0" width="3.0" height="7.1" fill="#00bfff"/>
<rect x="280.0" y="393.0" width="4.0" height="3.1" fill="#ff0000"/>
<rect x="284.0" y="390.9" width="7.8" height="3.1" fill="#ff0000"/>
<rect x="287.1" y="394.0" width="2.8" height="2.1" fill="#ff0000"/>
<rect x="280.0" y="387.0" width="4.0" height="5.9" fill="#00ffff"/>
<rect x="284.0" y="387.0" width="3.1" height="3.9" fill="#00bfff"/>
<rect x="280.0" y="383.0" width="4.0" height="4.0" fill="#ff0000"/>
<rect x="284.0" y="384.9" width="9.9" height="2.1" fill="#ff0000"/>
<rect x="287.1" y="383.0" width="2.8" height="7.8" fill="#ff0000"/>
<rect x="289.9" y="387.0" width="1.9" height="3.9" fill="#ff0000"/>
<rect x="284.0" y="382.0" width="3.1" height="2.9" fill="#00bfff"/>
<rect x="289.9" y="384.9" width="1.9" height="2.1" fill="#3b3bff"/>
<rect x="289.9" y="383.0" width="1.9" height="1.9" fill="#00ffff"/>
<rect x="291.8" y="382.0" width="2.1" height="2.9" fill="#00bfff"/>
<rect x="293.9" y="382.0" width="3.1" height="1.0" fill="#3b3bff"/>
<rect x="293.9" y="384.9" width="3.1" height="2.1" fill="#3b3bff"/>
<rect x="293.9" y="383.0" width="3.1" height="1.9" fill="#ff0000"/>
<rect x="297.0" y="380.1" width="4.0" height="1.9" fill="#00bfff"/>
<rect x="291.8" y="378.1" width="6.3" height="3.9" fill="#ff0000"/>
<rect x="289.9" y="380.1" width="1.9" height="1.9" fill="#00bfff"/>
<rect x="284.0" y="378.1" width="7.8" height="2.0" fill="#ff0000"/>
<rect x="289.9" y="376.1" width="1.9" height="2.1" fill="#ff0000"/>
<rect x="287.1" y="376.1" width="2.8" height="2.1" fill="#00ffff"/>
<rect x="291.8" y="376.1" width="2.1" height="2.1" fill="#00ffff"/>
<rect x="297.0" y="376.1" width="7.1" height="4.1" fill="#ff0000"/>
<rect x="293.9" y="374.0" width="10.2" height="2.1" fill="#ff0000"/>
<rect x="297.0" y="371.9" width="4.0" height="2.1" fill="#00bfff"/>
<rect x="301.0" y="370.0" width="3.1" height="4.0" fill="#ff0000"/>
<rect x="293.9" y="370.0" width="3.1" height="1.9" fill="#00bfff"/>
<rect x="260.0" y="424.0" width="13.0" height="2.1" fill="#008000"/>
<rect x="265.0" y="422.0" width="8.0" height="2.0" fill="#008000"/>
<rect x="269.1" y="419.1" width="4.0" height="1.9" fill="#008000"/>
<rect x="273.0" y="417.0" width="7.0" height="2.1" fill="#008000"/>
<rect x="277.0" y="410.9" width="10.1" height="8.1" fill="#008000"/>
<rect x="277.0" y="419.1" width="3.0" height="1.9" fill="#008000"/>
<rect x="280.0" y="407.9" width="7.1" height="3.0" fill="#00bfff"/>
<rect x="287.1" y="407.9" width="2.8" height="4.9" fill="#008000"/>
<rect x="284.0" y="406.0" width="5.9" height="1.9" fill="#00bfff"/>
<rect x="287.1" y="403.9" width="2.8" height="2.1" fill="#00bfff"/>
<rect x="289.9" y="401.9" width="11.1" height="7.0" fill="#008000"/>
<rect x="291.8" y="408.9" width="2.1" height="2.0" fill="#008000"/>
<rect x="291.8" y="398.2" width="2.1" height="3.8" fill="#008000"/>
<rect x="289.9" y="398.0" width="1.9" height="2.1" fill="#ffd700"/>
<rect x="293.9" y="400.1" width="7.1" height="1.9" fill="#008000"/>
<rect x="297.0" y="398.0" width="4.0" height="4.0" fill="#00bfff"/>
<rect x="297.0" y="396.1" width="4.0" height="1.9" fill="#ff0000"/>
<rect x="297.0" y="395.1" width="4.0" height="1.0" fill="#00bfff"/>
<rect x="301.0" y="393.0" width="3.1" height="11.0" fill="#008000"/>
<rect x="304.1" y="393.0" width="2.8" height="2.1" fill="#008000"/>
<rect x="310.8" y="390.9" width="2.1" height="7.1" fill="#008000"/>
<rect x="310.8" y="389.0" width="2.1" height="1.9" fill="#00bfff"/>
<rect x="310.8" y="387.0" width="2.1" height="2.0" fill="#008000"/>
<rect x="312.9" y="383.0" width="7.1" height="7.8" fill="#008000"/>
<rect x="312.9" y="383.0" width="2.9" height="1.9" fill="#00bfff"/>
<rect x="315.8" y="390.9" width="4.2" height="2.1" fill="#008000"/>
<rect x="320.0" y="376.1" width="3.1" height="14.8" fill="#008000"/>
<rect x="343.0" y="300.0" width="6.9" height="4.0" fill="#ff0000"/>
<rect x="335.0" y="305.0" width="8.0" height="1.9" fill="#ff0000"/>
<rect x="335.0" y="313.0" width="8.0" height="1.9" fill="#ff0000"/>
<rect x="335.0" y="318.0" width="8.0" height="4.0" fill="#ff0000"/>
<rect x="373.1" y="305.0" width="2.9" height="9.9" fill="#008000"/>
<rect x="376.0" y="304.0" width="3.1" height="4.9" fill="#008000"/>
<rect x="364.9" y="317.0" width="4.0" height="0.9" fill="#00bfff"/>
<rect x="364.9" y="321.9" width="4.0" height="2.1" fill="#00bfff"/>
<rect x="373.1" y="320.0" width="2.9" height="4.0" fill="#008000"/>
<rect x="361.1" y="328.0" width="7.8" height="2.1" fill="#008000"/>
<rect x="356.1" y="330.1" width="8.9" height="1.0" fill="#00bfff"/>
<rect x="356.1" y="333.0" width="5.0" height="2.0" fill="#00ffff"/>
<rect x="356.1" y="335.0" width="5.0" height="2.1" fill="#008000"/>
<rect x="373.1" y="337.1" width="2.9" height="1.9" fill="#ff0000"/>
<rect x="364.9" y="338.9" width="4.0" height="2.0" fill="#008000"/>
<rect x="349.9" y="338.9" width="6.2" height="4.1" fill="#00bfff"/>
<rect x="356.1" y="338.9" width="5.0" height="9.1" fill="#008000"/>
<rect x="349.9" y="343.0" width="6.2" height="5.0" fill="#008000"/>
<rect x="343.0" y="343.8" width="6.9" height="6.1" fill="#00bfff"/>
<rect x="349.9" y="348.0" width="6.2" height="1.9" fill="#00bfff"/>
<rect x="349.9" y="349.9" width="11.2" height="4.1" fill="#008000"/>
<rect x="349.9" y="354.0" width="6.2" height="11.0" fill="#008000"/>
<rect x="335.0" y="352.0" width="8.0" height="2.0" fill="#00ffff"/>
<rect x="343.0" y="352.0" width="6.9" height="4.1" fill="#00bfff"/>
<rect x="335.0" y="356.1" width="8.0" height="1.0" fill="#00bfff"/>
<rect x="343.0" y="356.1" width="6.9" height="1.0" fill="#008000"/>
<rect x="335.0" y="359.0" width="14.9" height="3.9" fill="#008000"/>
<rect x="335.0" y="362.8" width="8.0" height="2.1" fill="#00bfff"/>
<rect x="335.0" y="364.9" width="8.0" height="2.1" fill="#008000"/>
<rect x="335.0" y="367.0" width="8.0" height="3.0" fill="#00bfff"/>
<rect x="329.0" y="367.0" width="5.9" height="1.9" fill="#008000"/>
<rect x="329.0" y="368.9" width="5.9" height="1.1" fill="#00bfff"/>
<rect x="319.8" y="333.0" width="3.1" height="4.1" fill="#ff0000"/>
<rect x="324.0" y="337.1" width="1.9" height="1.9" fill="#ff0000"/>
<rect x="319.8" y="338.9" width="3.1" height="2.0" fill="#00ffff"/>
<rect x="319.8" y="340.9" width="3.1" height="5.0" fill="#00bfff"/>
<rect x="324.0" y="348.0" width="1.9" height="1.9" fill="#00bfff"/>
<rect x="319.8" y="354.0" width="3.1" height="2.1" fill="#00bfff"/>
<rect x="311.0" y="343.8" width="2.1" height="2.1" fill="#ff0000"/>
<rect x="301.0" y="359.0" width="3.1" height="3.9" fill="#ff0000"/>
<rect x="301.0" y="362.8" width="3.1" height="2.1" fill="#00ffff"/>
<rect x="311.0" y="362.8" width="2.1" height="2.1" fill="#00bfff"/>
<rect x="311.0" y="364.9" width="2.1" height="2.1" fill="#ff0000"/>
<rect x="301.0" y="367.0" width="3.1" height="1.9" fill="#00bfff"/>
<rect x="301.0" y="368.9" width="3.1" height="1.1" fill="#ff0000"/>
<rect x="320.1" y="169.8" width="3.3" height="2.1" fill="#00ffff"/>
<rect x="323.4" y="169.8" width="2.5" height="2.1" fill="#008000"/>
<rect x="320.1" y="175.7" width="5.8" height="3.1" fill="#008000"/>
<rect x="320.1" y="183.0" width="2.9" height="4.2" fill="#008000"/>
<rect x="402.1" y="169.8" width="4.8" height="2.1" fill="#008000"/>
<rect x="423.0" y="175.9" width="7.7" height="1.0" fill="#ba55d3"/>
<rect x="310.9" y="191.8" width="2.1" height="2.1" fill="#ffb6c1"/>
<rect x="355.8" y="225.8" width="5.2" height="1.0" fill="#ff0000"/>
<rect x="349.9" y="234.8" width="5.8" height="2.1" fill="#ff0000"/>
<rect x="355.8" y="246.0" width="5.2" height="1.9" fill="#ff0000"/>
<rect x="355.8" y="262.9" width="5.2" height="1.9" fill="#ff0000"/>
<rect x="349.9" y="268.0" width="5.8" height="4.0" fill="#ff0000"/>
<rect x="349.9" y="275.7" width="5.8" height="1.9" fill="#ff0000"/>
<rect x="349.9" y="279.0" width="5.8" height="4.0" fill="#ff0000"/>
<rect x="396.9" y="219.9" width="5.2" height="5.8" fill="#008000"/>
<rect x="402.1" y="223.9" width="4.8" height="2.9" fill="#008000"/>
<rect x="402.1" y="231.0" width="4.8" height="4.0" fill="#008000"/>
<rect x="396.9" y="236.8" width="5.2" height="1.9" fill="#008000"/>
<rect x="396.9" y="247.9" width="5.2" height="5.0" fill="#008000"/>
<rect x="396.9" y="264.8" width="5.2" height="13.8" fill="#008000"/>
<rect x="334.9" y="290.9" width="8.1" height="1.0" fill="#ff0000"/>
<rect x="343.0" y="292.0" width="6.9" height="1.9" fill="#00ffff"/>
<rect x="343.0" y="293.8" width="6.9" height="4.0" fill="#ff0000"/>
<rect x="372.9" y="290.9" width="3.1" height="1.0" fill="#008000"/>
<rect x="372.9" y="292.0" width="3.1" height="1.9" fill="#00ffff"/>
<rect x="184.1" y="300.0" width="2.9" height="2.1" fill="#00ffff"/>
<rect x="187.0" y="300.0" width="3.9" height="2.1" fill="#ff0000"/>
<rect x="190.9" y="300.0" width="2.1" height="2.1" fill="#00bfff"/>
<rect x="184.1" y="302.1" width="2.9" height="2.8" fill="#ff0000"/>
<rect x="187.0" y="304.9" width="3.9" height="4.0" fill="#00ffff"/>
<rect x="190.9" y="307.0" width="2.1" height="1.9" fill="#ff0000"/>
<rect x="195.9" y="300.0" width="2.1" height="3.9" fill="#00ffff"/>
<rect x="193.0" y="299.0" width="7.1" height="1.0" fill="#00bfff"/>
<rect x="193.0" y="296.1" width="2.9" height="1.9" fill="#ff0000"/>
<rect x="195.9" y="296.1" width="4.2" height="2.2" fill="#00ffff"/>
<rect x="200.1" y="294.0" width="2.9" height="1.9" fill="#ffb6c1"/>
<rect x="193.0" y="292.0" width="2.9" height="2.0" fill="#00bfff"/>
<rect x="195.9" y="289.1" width="2.1" height="1.9" fill="#ffd700"/>
<rect x="198.0" y="284.9" width="2.1" height="2.1" fill="#ff0000"/>
<rect x="187.0" y="280.9" width="3.9" height="2.1" fill="#ff0000"/>
<rect x="190.9" y="278.9" width="2.1" height="2.0" fill="#00bfff"/>
<rect x="193.0" y="277.9" width="2.9" height="1.0" fill="#ff0000"/>
<rect x="208.0" y="292.0" width="4.1" height="2.0" fill="#00bfff"/>
<rect x="203.0" y="287.0" width="5.0" height="2.1" fill="#00ffff"/>
<rect x="203.0" y="289.1" width="5.0" height="1.9" fill="#00bfff"/>
<rect x="208.0" y="287.0" width="4.1" height="2.1" fill="#ff0000"/>
<rect x="212.1" y="287.0" width="4.9" height="4.0" fill="#ffd700"/>
<rect x="203.0" y="280.9" width="5.0" height="6.1" fill="#ff0000"/>
<rect x="208.0" y="284.9" width="9.0" height="2.1" fill="#00ffff"/>
<rect x="217.0" y="283.0" width="5.0" height="1.9" fill="#00ffff"/>
<rect x="208.0" y="277.9" width="4.1" height="3.0" fill="#ff0000"/>
<rect x="212.1" y="278.1" width="4.9" height="4.9" fill="#00ffff"/>
<rect x="212.1" y="277.9" width="4.9" height="1.0" fill="#00bfff"/>
<rect x="217.0" y="278.9" width="5.0" height="2.0" fill="#ff0000"/>
<rect x="222.0" y="277.9" width="3.9" height="3.0" fill="#00ffff"/>
<rect x="217.0" y="276.0" width="8.9" height="1.9" fill="#ff0000"/>
<rect x="217.0" y="273.9" width="8.9" height="2.1" fill="#00ffff"/>
<rect x="212.1" y="271.9" width="4.9" height="4.1" fill="#ff0000"/>
<rect x="217.0" y="271.9" width="5.0" height="2.0" fill="#00bfff"/>
<rect x="217.0" y="270.1" width="5.0" height="1.9" fill="#ff0000"/>
<rect x="217.0" y="268.0" width="8.9" height="2.1" fill="#00ffff"/>
<rect x="222.0" y="260.9" width="3.9" height="7.1" fill="#ff0000"/>
<rect x="225.8" y="263.0" width="6.1" height="3.1" fill="#ff0000"/>
<rect x="225.8" y="260.9" width="6.1" height="2.1" fill="#00bfff"/>
<rect x="225.8" y="254.9" width="6.1" height="5.9" fill="#ff0000"/>
<rect x="231.9" y="257.0" width="6.1" height="2.0" fill="#ff0000"/>
<rect x="237.9" y="257.0" width="5.9" height="2.0" fill="#ffb6c1"/>
<rect x="243.9" y="254.9" width="4.2" height="4.1" fill="#ff0000"/>
<rect x="231.9" y="252.0" width="6.1" height="2.9" fill="#00bfff"/>
<rect x="237.9" y="259.0" width="5.9" height="6.1" fill="#ff0000"/>
<rect x="237.9" y="265.1" width="5.9" height="2.9" fill="#00ffff"/>
<rect x="237.9" y="242.1" width="10.1" height="7.8" fill="#ff0000"/>
<rect x="237.9" y="240.0" width="5.9" height="2.1" fill="#00bfff"/>
<rect x="243.9" y="240.0" width="4.2" height="2.1" fill="#ff0000"/>
<rect x="243.9" y="248.1" width="4.2" height="1.8" fill="#ffd700"/>
<rect x="248.1" y="242.1" width="4.0" height="1.9" fill="#ffd700"/>
<rect x="244.1" y="238.9" width="3.9" height="1.1" fill="#ff0000"/>
<rect x="248.0" y="238.9" width="4.0" height="1.1" fill="#ffb6c1"/>
<rect x="248.0" y="232.8" width="4.0" height="2.1" fill="#ffb6c1"/>
<rect x="251.9" y="229.0" width="4.2" height="2.1" fill="#ffd700"/>
<rect x="251.9" y="231.1" width="4.2" height="1.8" fill="#ff0000"/>
<rect x="251.9" y="232.8" width="4.2" height="2.1" fill="#00ffff"/>
<rect x="251.9" y="234.9" width="4.2" height="2.1" fill="#ff0000"/>
<rect x="260.0" y="226.1" width="5.0" height="0.8" fill="#ff0000"/>
<rect x="265.0" y="226.1" width="4.1" height="0.8" fill="#ba55d3"/>
<rect x="265.0" y="229.0" width="4.1" height="3.9" fill="#ff0000"/>
<rect x="265.0" y="237.0" width="4.1" height="1.9" fill="#ff0000"/>
<rect x="260.0" y="214.9" width="5.0" height="3.1" fill="#00ffff"/>
<rect x="260.0" y="218.0" width="5.0" height="5.9" fill="#00bfff"/>
<rect x="265.0" y="213.0" width="8.0" height="9.2" fill="#ff0000"/>
<rect x="265.0" y="220.1" width="4.1" height="1.9" fill="#3b3bff"/>
<rect x="269.1" y="222.0" width="4.0" height="4.1" fill="#ff0000"/>
<rect x="265.0" y="207.1" width="4.1" height="5.9" fill="#00ffff"/>
<rect x="269.1" y="205.0" width="4.0" height="2.1" fill="#00ffff"/>
<rect x="269.1" y="207.1" width="4.0" height="3.9" fill="#ff0000"/>
<rect x="269.1" y="210.9" width="7.9" height="2.1" fill="#00bfff"/>
<rect x="273.0" y="205.0" width="4.0" height="4.0" fill="#ff0000"/>
<rect x="273.0" y="208.9" width="4.0" height="2.0" fill="#00bfff"/>
<rect x="273.0" y="201.9" width="4.0" height="1.0" fill="#ff0000"/>
<rect x="273.0" y="203.0" width="4.0" height="2.0" fill="#00bfff"/>
<rect x="277.0" y="198.0" width="3.0" height="4.0" fill="#00bfff"/>
<rect x="280.0" y="198.0" width="4.0" height="4.0" fill="#ff0000"/>
<rect x="287.1" y="200.1" width="2.8" height="1.9" fill="#ff0000"/>
<rect x="277.0" y="194.0" width="10.1" height="4.0" fill="#ff0000"/>
<rect x="280.0" y="196.1" width="4.0" height="1.9" fill="#ba55d3"/>
<rect x="277.0" y="190.0" width="3.0" height="4.0" fill="#00bfff"/>
<rect x="280.0" y="189.0" width="9.9" height="7.1" fill="#ff0000"/>
<rect x="287.1" y="190.9" width="4.7" height="1.3" fill="#ff0000"/>
<rect x="280.0" y="184.9" width="7.1" height="2.1" fill="#ff0000"/>
<rect x="284.0" y="187.0" width="3.1" height="2.0" fill="#ff0000"/>
<rect x="287.1" y="187.0" width="2.8" height="2.0" fill="#00ffff"/>
<rect x="289.9" y="184.9" width="1.9" height="2.1" fill="#00bfff"/>
<rect x="291.8" y="189.0" width="2.1" height="0.8" fill="#00bfff"/>
<rect x="287.1" y="176.1" width="4.7" height="8.9" fill="#ff0000"/>
<rect x="291.8" y="176.1" width="5.2" height="2.8" fill="#ff0000"/>
<rect x="293.9" y="178.9" width="3.1" height="2.1" fill="#ff0000"/>
<rect x="297.0" y="175.0" width="4.0" height="1.9" fill="#ff0000"/>
<rect x="289.9" y="171.9" width="4.0" height="4.2" fill="#ff0000"/>
<rect x="291.8" y="170.0" width="5.2" height="1.9" fill="#ff0000"/>
<rect x="280.0" y="210.9" width="4.0" height="2.1" fill="#3b3bff"/>
<rect x="280.0" y="226.1" width="4.0" height="0.8" fill="#008000"/>
<rect x="284.0" y="218.0" width="3.1" height="5.9" fill="#008000"/>
<rect x="287.1" y="215.9" width="2.8" height="4.2" fill="#008000"/>
<rect x="289.9" y="218.0" width="1.9" height="1.6" fill="#008000"/>
<rect x="287.1" y="220.1" width="2.8" height="1.9" fill="#00bfff"/>
<rect x="291.8" y="210.9" width="2.1" height="2.1" fill="#008000"/>
<rect x="291.8" y="213.0" width="5.2" height="2.9" fill="#00ffff"/>
<rect x="293.9" y="214.9" width="3.1" height="2.9" fill="#00bfff"/>
<rect x="297.0" y="201.9" width="7.1" height="3.0" fill="#008000"/>
<rect x="301.0" y="200.1" width="3.1" height="1.9" fill="#00bfff"/>
<rect x="297.0" y="205.0" width="7.1" height="4.0" fill="#00bfff"/>
<rect x="301.0" y="205.0" width="3.1" height="2.1" fill="#008000"/>
<rect x="310.8" y="191.9" width="2.1" height="2.1" fill="#ffb6c1"/>
<rect x="294.1" y="162.9" width="3.1" height="1.0" fill="#00ffff"/>
<rect x="297.2" y="162.9" width="3.8" height="1.0" fill="#00bfff"/>
<rect x="300.9" y="162.9" width="3.1" height="1.0" fill="#ff0000"/>
<rect x="297.2" y="163.9" width="6.8" height="1.9" fill="#ff0000"/>
<rect x="294.1" y="168.0" width="3.1" height="2.1" fill="#ff0000"/>
<rect x="324.0" y="374.0" width="2.0" height="2.0" fill="#00ffff"/>
<rect x="324.0" y="376.0" width="2.0" height="1.9" fill="#008000"/>
<rect x="324.0" y="377.9" width="2.0" height="2.1" fill="#00bfff"/>
<rect x="324.0" y="380.0" width="2.0" height="2.9" fill="#008000"/>
<rect x="324.0" y="383.0" width="2.0" height="2.1" fill="#00bfff"/>
<rect x="329.0" y="367.1" width="6.0" height="10.9" fill="#008000"/>
<rect x="329.0" y="369.0" width="6.0" height="3.1" fill="#00bfff"/>
<rect x="335.0" y="365.0" width="7.9" height="9.0" fill="#008000"/>
<rect x="335.0" y="367.1" width="7.9" height="2.9" fill="#00bfff"/>
<rect x="767.8" y="236.9" width="17.2" height="2.1" fill="#ffd700"/>
<rect x="705.0" y="274.0" width="11.9" height="2.1" fill="#ffd700"/>
<rect x="705.0" y="372.1" width="11.9" height="2.0" fill="#3b3bff"/>
<rect x="729.9" y="385.0" width="16.1" height="2.1" fill="#ff0000"/>
<rect x="729.9" y="387.1" width="16.1" height="2.0" fill="#ffd700"/>
<rect x="729.9" y="396.2" width="16.1" height="3.8" fill="#ffd700"/>
<rect x="705.0" y="430.0" width="11.9" height="2.0" fill="#00ffff"/>
<rect x="729.9" y="666.9" width="16.3" height="2.2" fill="#ffd700"/>
<rect x="729.9" y="685.9" width="16.3" height="2.0" fill="#ffb6c1"/>
<rect x="650.0" y="689.9" width="11.1" height="2.0" fill="#ba55d3"/>
<rect x="623.0" y="735.9" width="14.1" height="2.0" fill="#3b3bff"/>
<rect x="530.1" y="393.0" width="6.9" height="1.9" fill="#00bfff"/>
<rect x="117.0" y="736.1" width="2.0" height="1.9" fill="#ffb6c1"/>
<rect x="151.9" y="732.0" width="1.2" height="2.0" fill="#3b3bff"/>
<rect x="151.9" y="734.0" width="1.2" height="4.0" fill="#00ffff"/>
<rect x="164.0" y="586.1" width="2.0" height="2.0" fill="#ffb6c1"/>
<rect x="291.9" y="366.9" width="2.1" height="2.1" fill="#00ffff"/>
<rect x="291.9" y="369.0" width="2.1" height="1.0" fill="#ff0000"/>
<rect x="296.9" y="369.0" width="4.1" height="1.0" fill="#ff0000"/>
<rect x="293.8" y="575.0" width="3.1" height="1.1" fill="#00bfff"/>
<rect x="397.0" y="560.0" width="5.0" height="1.9" fill="#3b3bff"/>
</g>
<path d="M138.50 100.50V793.50M230.50 100.50V793.50M323.50 100.50V793.50M415.50 100.50V793.50M508.50 100.50V793.50M600.50 100.50V793.50M692.50 100.50V793.50M785.50 100.50V793.50M92.50 793.50H785.50M92.50 669.50H785.50M92.50 545.50H785.50M92.50 421.50H785.50M92.50 298.50H785.50M92.50 174.50H785.50" stroke="#b0b0b0" stroke-width="1.11" fill="none"/>
<path d="M138.50 793.50v4.86M230.50 793.50v4.86M323.50 793.50v4.86M415.50 793.50v4.86M508.50 793.50v4.86M600.50 793.50v4.86M692.50 793.50v4.86M785.50 793.50v4.86M92.50 793.50h-4.86M92.50 669.50h-4.86M92.50 545.50h-4.86M92.50 421.50h-4.86M92.50 298.50h-4.86M92.50 174.50h-4.86" stroke="#000" stroke-width="1.11" fill="none"/>
<path d="M92.50 793.50v2.78M115.50 793.50v2.78M161.50 793.50v2.78M184.50 793.50v2.78M207.50 793.50v2.78M253.50 793.50v2.78M277.50 793.50v2.78M300.50 793.50v2.78M346.50 793.50v2.78M369.50 793.50v2.78M392.50 793.50v2.78M438.50 793.50v2.78M461.50 793.50v2.78M484.50 793.50v2.78M531.50 793.50v2.78M554.50 793.50v2.78M577.50 793.50v2.78M623.50 793.50v2.78M646.50 793.50v2.78M669.50 793.50v2.78M715.50 793.50v2.78M739.50 793.50v2.78M762.50 793.50v2.78M92.50 762.50h-2.78M92.50 731.50h-2.78M92.50 700.50h-2.78M92.50 638.50h-2.78M92.50 607.50h-2.78M92.50 576.50h-2.78M92.50 514.50h-2.78M92.50 483.50h-2.78M92.50 452.50h-2.78M92.50 390.50h-2.78M92.50 359.50h-2.78M92.50 329.50h-2.78M92.50 267.50h-2.78M92.50 236.50h-2.78M92.50 205.50h-2.78M92.50 143.50h-2.78M92.50 112.50h-2.78" stroke="#000" stroke-width="0.83" fill="none"/>
<rect x="92.50" y="100.50" width="693.00" height="693.00" fill="none" stroke="#000" stroke-width="1.11"/>
<text x="149.36" y="31.90" font-size="30.0" textLength="57.71" lengthAdjust="spacingAndGlyphs">NAL</text>
<text x="215.47" y="31.90" font-size="30.0" textLength="71.21" lengthAdjust="spacingAndGlyphs">CADI</text>
<text x="295.11" y="31.90" font-size="30.0" textLength="10.81" lengthAdjust="spacingAndGlyphs">-</text>
<text x="315.00" y="31.90" font-size="30.0" textLength="55.09" lengthAdjust="spacingAndGlyphs">Mar</text>
<text x="378.98" y="31.90" font-size="30.0" textLength="36.28" lengthAdjust="spacingAndGlyphs">10</text>
<text x="424.62" y="31.90" font-size="30.0" textLength="128.93" lengthAdjust="spacingAndGlyphs">18:15:00</text>
<text x="563.44" y="31.90" font-size="30.0" textLength="72.77" lengthAdjust="spacingAndGlyphs">2023</text>
<text x="646.20" y="31.90" font-size="30.0" textLength="57.63" lengthAdjust="spacingAndGlyphs">UTC</text>
<text x="336.51" y="841.50" font-size="25.4" textLength="122.20" lengthAdjust="spacingAndGlyphs">Frequency</text>
<text x="468.90" y="841.50" font-size="25.4" textLength="69.86" lengthAdjust="spacingAndGlyphs">(MHz)</text>
<text transform="translate(28.70,559.72) rotate(-90)" font-size="25.4" textLength="78.88" lengthAdjust="spacingAndGlyphs">Virtual</text>
<text transform="translate(28.70,473.81) rotate(-90)" font-size="25.4" textLength="75.40" lengthAdjust="spacingAndGlyphs">height</text>
<text transform="translate(28.70,389.75) rotate(-90)" font-size="25.4" textLength="55.21" lengthAdjust="spacingAndGlyphs">(km)</text>
<text transform="translate(943.20,549.06) rotate(-90)" font-size="25.4" textLength="97.03" lengthAdjust="spacingAndGlyphs">Azimuth</text>
<text transform="translate(943.20,443.55) rotate(-90)" font-size="25.4" textLength="107.83" lengthAdjust="spacingAndGlyphs">Direction</text>
<text x="855.90" y="132.75" font-size="17.3" textLength="34.47" lengthAdjust="spacingAndGlyphs">NNE</text>
<text x="856.13" y="222.75" font-size="17.3" textLength="10.10" lengthAdjust="spacingAndGlyphs">E</text>
<text x="855.87" y="312.75" font-size="17.3" textLength="30.64" lengthAdjust="spacingAndGlyphs">SSE</text>
<text x="855.91" y="402.75" font-size="17.3" textLength="36.45" lengthAdjust="spacingAndGlyphs">SSW</text>
<text x="856.29" y="492.75" font-size="17.3" textLength="16.00" lengthAdjust="spacingAndGlyphs">W</text>
<text x="855.87" y="582.75" font-size="17.3" textLength="40.52" lengthAdjust="spacingAndGlyphs">NNW</text>
<text x="855.94" y="672.75" font-size="17.3" textLength="61.88" lengthAdjust="spacingAndGlyphs">Vertical</text>
<text x="855.77" y="762.75" font-size="17.3" textLength="63.07" lengthAdjust="spacingAndGlyphs">X-mode</text>
<text x="72.27" y="798.80" font-size="17.3" textLength="10.13" lengthAdjust="spacingAndGlyphs">0</text>
<text x="49.83" y="674.80" font-size="17.3" textLength="31.10" lengthAdjust="spacingAndGlyphs">200</text>
<text x="50.11" y="550.80" font-size="17.3" textLength="30.87" lengthAdjust="spacingAndGlyphs">400</text>
<text x="49.91" y="426.80" font-size="17.3" textLength="31.06" lengthAdjust="spacingAndGlyphs">600</text>
<text x="49.92" y="303.80" font-size="17.3" textLength="31.06" lengthAdjust="spacingAndGlyphs">800</text>
<text x="40.42" y="179.80" font-size="17.3" textLength="40.85" lengthAdjust="spacingAndGlyphs">1000</text>
<text x="132.84" y="814.90" font-size="17.3" textLength="10.13" lengthAdjust="spacingAndGlyphs">2</text>
<text x="226.57" y="814.90" font-size="17.3" textLength="9.54" lengthAdjust="spacingAndGlyphs">4</text>
<text x="317.80" y="814.90" font-size="17.3" textLength="10.90" lengthAdjust="spacingAndGlyphs">6</text>
<text x="410.27" y="814.90" font-size="17.3" textLength="10.17" lengthAdjust="spacingAndGlyphs">8</text>
<text x="498.25" y="814.90" font-size="17.3" textLength="19.80" lengthAdjust="spacingAndGlyphs">10</text>
<text x="590.78" y="814.90" font-size="17.3" textLength="19.09" lengthAdjust="spacingAndGlyphs">12</text>
<text x="683.34" y="814.90" font-size="17.3" textLength="19.15" lengthAdjust="spacingAndGlyphs">14</text>
<text x="775.77" y="814.90" font-size="17.3" textLength="19.27" lengthAdjust="spacingAndGlyphs">16</text>
<rect x="816.50" y="82.35" width="30.00" height="90.50" fill="#00bfff"/>
<rect x="816.50" y="172.35" width="30.00" height="90.50" fill="#00ffff"/>
<rect x="816.50" y="262.35" width="30.00" height="90.50" fill="#ffd700"/>
<rect x="816.50" y="352.35" width="30.00" height="90.50" fill="#ffb6c1"/>
<rect x="816.50" y="442.35" width="30.00" height="90.50" fill="#ba55d3"/>
<rect x="816.50" y="532.35" width="30.00" height="90.50" fill="#3b3bff"/>
<rect x="816.50" y="622.35" width="30.00" height="90.50" fill="#ff0000"/>
<rect x="816.50" y="712.35" width="30.00" height="90.15" fill="#008000"/>
<rect x="816.50" y="82.50" width="30.00" height="720.00" fill="none" stroke="#000" stroke-width="1.11"/>
<path d="M846.50 127.50h4.86M846.50 217.50h4.86M846.50 307.50h4.86M846.50 397.50h4.86M846.50 487.50h4.86M846.50 577.50h4.86M846.50 667.50h4.86M846.50 757.50h4.86" stroke="#000" stroke-width="1.11" fill="none"/>
<path d="M846.50 82.50h2.78M846.50 172.50h2.78M846.50 262.50h2.78M846.50 352.50h2.78M846.50 442.50h2.78M846.50 532.50h2.78M846.50 622.50h2.78M846.50 712.50h2.78M846.50 802.50h2.78" stroke="#000" stroke-width="0.83" fill="none"/>
</svg>
</body></html>
